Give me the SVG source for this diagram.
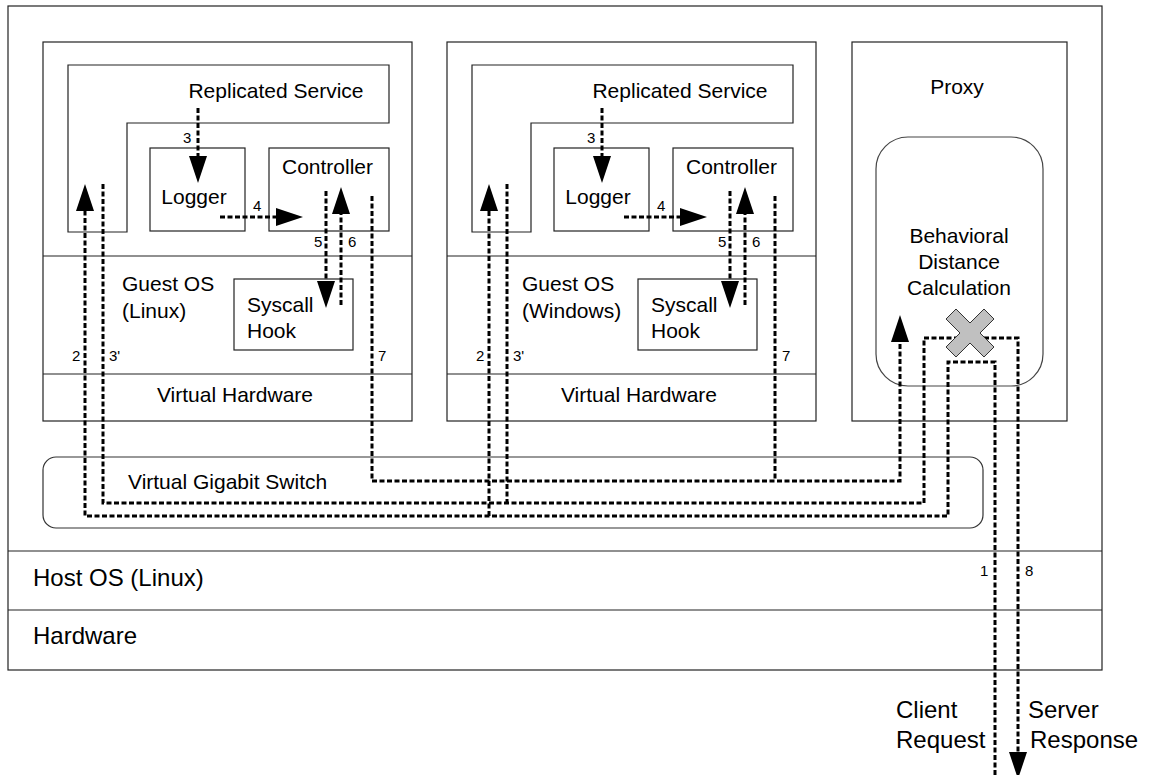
<svg xmlns="http://www.w3.org/2000/svg" width="1149" height="775" viewBox="0 0 1149 775">
<defs>
<style>
.box{fill:none;stroke:#222;stroke-width:1.2}
.t{font-family:"Liberation Sans",Arial,Helvetica,sans-serif;fill:#000}
.m{font-size:21px}
.l{font-size:24px}
.s{font-size:15px}
.c{text-anchor:middle}
.d{fill:none;stroke:#000;stroke-width:3;stroke-dasharray:5 2.5}
.a{marker-end:url(#ah)}
</style>
<marker id="ah" markerUnits="userSpaceOnUse" markerWidth="28" markerHeight="18" refX="0" refY="9" orient="auto" overflow="visible">
<path d="M0,0 L27,9 L0,18 Z" fill="#000"/>
</marker>
</defs>
<rect width="1149" height="775" fill="#fff"/>

<g id="host">
<rect class="box" x="8" y="6" width="1094" height="664"/>
<line class="box" x1="8" y1="551" x2="1102" y2="551"/>
<line class="box" x1="8" y1="610" x2="1102" y2="610"/>
<text class="t l" x="33" y="586">Host OS (Linux)</text>
<text class="t l" x="33" y="644">Hardware</text>
</g>

<g id="vm1">
<rect class="box" x="43" y="42" width="369" height="379"/>
<line class="box" x1="43" y1="256" x2="412" y2="256"/>
<line class="box" x1="43" y1="374" x2="412" y2="374"/>
<text class="t m" x="122" y="291">Guest OS</text>
<text class="t m" x="122" y="318">(Linux)</text>
<text class="t m c" x="235" y="402">Virtual Hardware</text>
<g id="vm1-service">
<path class="box" d="M68,65 L389,65 L389,123 L127,123 L127,232 L68,232 Z"/>
<text class="t m c" x="276" y="98">Replicated Service</text>
</g>
<g id="vm1-logger">
<rect class="box" x="150" y="148" width="95" height="83"/>
<text class="t m c" x="194" y="204">Logger</text>
</g>
<g id="vm1-controller">
<rect class="box" x="269" y="148" width="120" height="83"/>
<text class="t m" x="282" y="174">Controller</text>
</g>
<g id="vm1-syscall">
<rect class="box" x="234" y="279" width="119" height="71"/>
<text class="t m" x="247" y="312">Syscall</text>
<text class="t m" x="247" y="338">Hook</text>
</g>
</g>

<g id="vm2" transform="translate(404,0)">
<rect class="box" x="43" y="42" width="369" height="379"/>
<line class="box" x1="43" y1="256" x2="412" y2="256"/>
<line class="box" x1="43" y1="374" x2="412" y2="374"/>
<text class="t m" x="118" y="291">Guest OS</text>
<text class="t m" x="118" y="318">(Windows)</text>
<text class="t m c" x="235" y="402">Virtual Hardware</text>
<g id="vm2-service">
<path class="box" d="M68,65 L389,65 L389,123 L127,123 L127,232 L68,232 Z"/>
<text class="t m c" x="276" y="98">Replicated Service</text>
</g>
<g id="vm2-logger">
<rect class="box" x="150" y="148" width="95" height="83"/>
<text class="t m c" x="194" y="204">Logger</text>
</g>
<g id="vm2-controller">
<rect class="box" x="269" y="148" width="120" height="83"/>
<text class="t m" x="282" y="174">Controller</text>
</g>
<g id="vm2-syscall">
<rect class="box" x="234" y="279" width="119" height="71"/>
<text class="t m" x="247" y="312">Syscall</text>
<text class="t m" x="247" y="338">Hook</text>
</g>
</g>

<g id="proxy">
<rect class="box" x="852" y="42" width="215" height="379"/>
<text class="t m c" x="957" y="94">Proxy</text>
<g id="bdc">
<rect x="876" y="137" width="167" height="249" rx="32" ry="32" fill="none" stroke="#444" stroke-width="1.2"/>
<text class="t m c" x="959" y="243">Behavioral</text>
<text class="t m c" x="959" y="269">Distance</text>
<text class="t m c" x="959" y="295">Calculation</text>
</g>
</g>

<g id="switch">
<rect x="43" y="457" width="940" height="71" rx="13" ry="13" fill="none" stroke="#333" stroke-width="1.2"/>
<text class="t m" x="128" y="489">Virtual Gigabit Switch</text>
</g>

<g id="connectors">
<g id="vm1-arrows">
<path class="d a" d="M198,108 L198,156"/>
<path class="d a" d="M220,217 L276,217"/>
<path class="d a" d="M326,191 L326,281"/>
<path class="d a" d="M341,305 L341,214"/>
</g>
<g id="vm2-arrows" transform="translate(404,0)">
<path class="d a" d="M198,108 L198,156"/>
<path class="d a" d="M220,217 L276,217"/>
<path class="d a" d="M326,191 L326,281"/>
<path class="d a" d="M341,305 L341,214"/>
</g>
<path class="d a" d="M995,775 L995,362 L948,362 L948,516 L85,516 L85,211"/>
<path class="d a" d="M489,516 L489,211"/>
<path class="d a" d="M103,184 L103,503 L924,503 L924,338 L1018,338 L1018,752"/>
<path class="d" d="M507,184 L507,503"/>
<path class="d a" d="M372,196 L372,481 L900,481 L900,342"/>
<path class="d" d="M775,196 L775,481"/>
</g>

<g id="x-mark">
<polygon points="970,323 984,309 994,319 980,333 994,347 984,357 970,343 956,357 946,347 960,333 946,319 956,309" fill="#c0c0c0" stroke="#333" stroke-width="1"/>
</g>

<g id="labels">
<text class="t s" x="183" y="143">3</text>
<text class="t s" x="253" y="211">4</text>
<text class="t s" x="314" y="247">5</text>
<text class="t s" x="348" y="247">6</text>
<text class="t s" x="72" y="361">2</text>
<text class="t s" x="109" y="361">3'</text>
<text class="t s" x="378" y="361">7</text>
<text class="t s" x="587" y="143">3</text>
<text class="t s" x="657" y="211">4</text>
<text class="t s" x="718" y="247">5</text>
<text class="t s" x="752" y="247">6</text>
<text class="t s" x="476" y="361">2</text>
<text class="t s" x="513" y="361">3'</text>
<text class="t s" x="782" y="361">7</text>
<text class="t s" x="980" y="576">1</text>
<text class="t s" x="1025" y="576">8</text>
<text class="t l" x="896" y="718">Client</text>
<text class="t l" x="896" y="748">Request</text>
<text class="t l" x="1028" y="718">Server</text>
<text class="t l" x="1030" y="748">Response</text>
</g>
</svg>
